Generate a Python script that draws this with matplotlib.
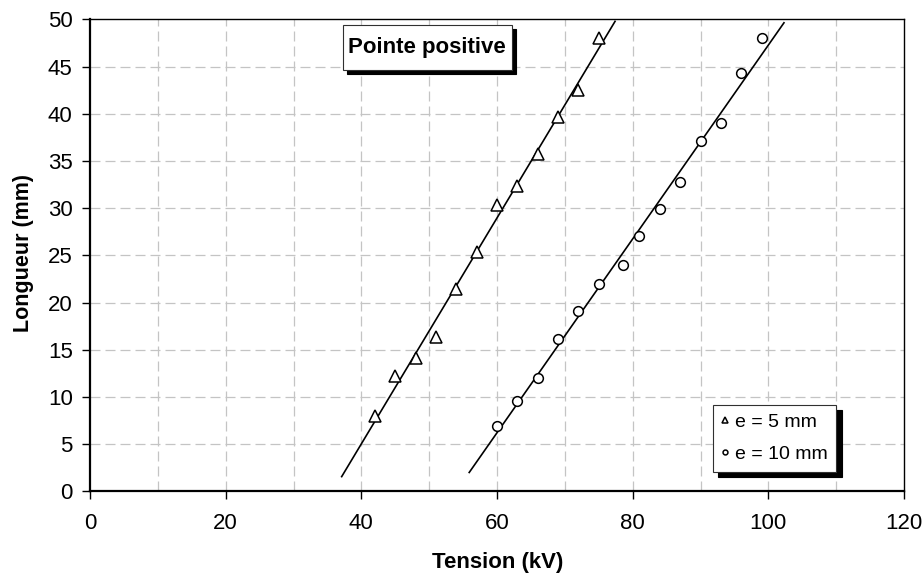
import numpy as np
import matplotlib
matplotlib.use("Agg")
import matplotlib.pyplot as plt
from matplotlib.patches import Rectangle

plt.rcParams["font.family"] = ["Liberation Sans", "DejaVu Sans"]

# e = 5 mm (triangles)
tension_5 = [42, 45, 48, 51, 54, 57, 60, 63, 66, 69, 72, 75]
longueur_5 = [8.0, 12.2, 14.1, 16.4, 21.4, 25.4, 30.3, 32.4, 35.8, 39.7, 42.5, 48.0]
fit_range_5 = [37.1, 77.4]

# e = 10 mm (circles)
tension_10 = [60, 63, 66, 69, 72, 75, 78.5, 81, 84, 87, 90, 93, 96, 99]
longueur_10 = [6.9, 9.6, 12.0, 16.1, 19.1, 22.0, 24.0, 27.1, 29.9, 32.8, 37.1, 39.0, 44.3, 48.0]
fit_range_10 = [55.9, 102.3]

fig = plt.figure(figsize=(9.24, 5.78), dpi=100)
ax = fig.add_axes([0.0974, 0.1497, 0.881, 0.8166])

grid_kw = dict(color="#c4c4c4", lw=0.9, dashes=(8, 4), zorder=0)
for gx in range(10, 120, 10):
    ax.axvline(gx, **grid_kw)
for gy in range(5, 50, 5):
    ax.axhline(gy, **grid_kw)

# droites de regression
for xs, ys, rng in [(tension_5, longueur_5, fit_range_5),
                    (tension_10, longueur_10, fit_range_10)]:
    a, b = np.polyfit(xs, ys, 1)
    xx = np.array(rng)
    ax.plot(xx, a * xx + b, color="black", lw=1.2, zorder=2)

ax.plot(tension_5, longueur_5, ls="none", marker="^", ms=8, mfc="white",
        mec="black", mew=1.1, zorder=3, label="e = 5 mm")
ax.plot(tension_10, longueur_10, ls="none", marker="o", ms=7, mfc="white",
        mec="black", mew=1.1, zorder=3, label="e = 10 mm")

ax.set_xlim(0, 120)
ax.set_ylim(0, 50)
ax.set_xticks(range(0, 121, 20))
ax.set_yticks(range(0, 51, 5))
ax.tick_params(direction="out", length=5.5, width=1, labelsize=16)
ax.tick_params(axis="x", pad=10)
ax.tick_params(axis="y", pad=7)
for side in ["left", "bottom"]:
    ax.spines[side].set_linewidth(1.6)
for side in ["top", "right"]:
    ax.spines[side].set_linewidth(1.0)

ax.set_xlabel("Tension (kV)", fontsize=16, fontweight="bold")
ax.set_ylabel("Longueur (mm)", fontsize=15.5, fontweight="bold")
ax.xaxis.set_label_coords(0.501, -0.128)
ax.yaxis.set_label_coords(-0.069, 0.505)

# cadre du titre avec ombre noire
bx, by, bw, bh = 0.3104, 0.893, 0.2076, 0.0953
sx, sy = 4 / 814, -4 / 472
ax.add_patch(Rectangle((bx + sx, by + sy), bw, bh, transform=ax.transAxes,
                       fc="black", ec="black", lw=0.8, zorder=4, clip_on=False))
ax.add_patch(Rectangle((bx, by), bw, bh, transform=ax.transAxes,
                       fc="white", ec="#303030", lw=0.8, zorder=5, clip_on=False))
ax.text(bx + bw / 2, by + bh / 2, "Pointe positive", fontsize=16,
        fontweight="bold", ha="center", va="center", transform=ax.transAxes,
        zorder=6)

leg = ax.legend(loc="upper right", bbox_to_anchor=(0.917, 0.184),
                borderaxespad=0, fontsize=14, markerscale=0.5,
                handlelength=0.4, handletextpad=0.3, labelspacing=0.75,
                borderpad=0.45, fancybox=False, framealpha=1,
                edgecolor="#303030",
                shadow={"color": "black", "alpha": 1, "ox": 4, "oy": -4})
leg.get_frame().set_linewidth(0.8)

fig.savefig("out.png", dpi=100)
